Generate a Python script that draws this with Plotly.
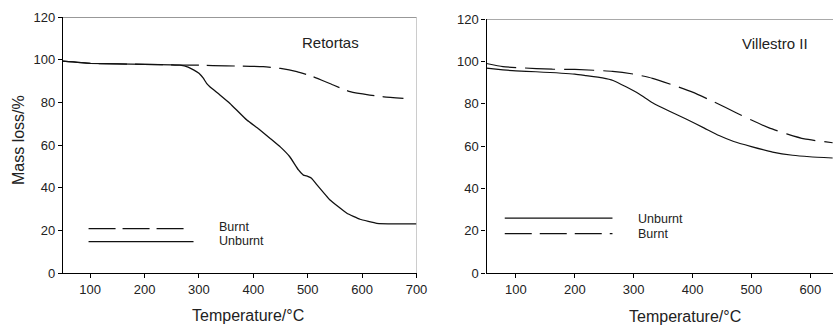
import plotly.graph_objects as go

# ---- Data: Retortas (left panel) ----
ret_burnt_T = [50, 100, 200, 265, 300, 350, 418, 450, 480, 510, 547, 578, 614, 640, 676]
ret_burnt_m = [99.3, 98.3, 97.8, 97.5, 97.4, 97.1, 96.7, 95.9, 94.4, 92.0, 88.1, 85.0, 83.4, 82.6, 81.9]

ret_unburnt_T = [50, 100, 200, 250, 265, 280, 290, 300, 308, 314, 320, 338, 357, 388, 410, 431, 450, 467, 483, 492, 500, 507, 517, 541, 572, 596, 627, 660, 700]
ret_unburnt_m = [99.3, 98.3, 97.8, 97.6, 97.4, 96.5, 95.2, 93.6, 91.3, 88.9, 87.3, 83.6, 79.5, 71.7, 67.5, 63.1, 59.0, 54.5, 48.3, 45.9, 45.3, 44.4, 41.3, 34.2, 28.0, 25.2, 23.3, 23.0, 23.0]

# ---- Data: Villestro II (right panel) ----
vil_burnt_T = [50, 78, 107, 162, 200, 264, 300, 332, 365, 400, 437, 474, 500, 530, 560, 590, 627, 638]
vil_burnt_m = [99.0, 97.5, 97.0, 96.3, 96.2, 95.3, 94.0, 92.0, 89.0, 85.5, 80.8, 75.8, 72.3, 68.6, 65.8, 63.4, 62.0, 61.6]

vil_unburnt_T = [50, 78, 100, 134, 200, 219, 247, 265, 287, 310, 332, 360, 389, 420, 445, 470, 500, 536, 570, 599, 638]
vil_unburnt_m = [96.8, 96.0, 95.5, 95.1, 94.0, 93.3, 92.2, 91.0, 88.0, 84.5, 80.5, 76.6, 72.8, 68.5, 65.0, 62.2, 59.8, 57.2, 55.7, 55.0, 54.4]

x_ticks = [100, 200, 300, 400, 500, 600, 700]
y_ticks = [0, 20, 40, 60, 80, 100, 120]

FONT = "Liberation Sans, Arial, Helvetica, sans-serif"
TXT = "#222222"
LINE = "#111111"

fig = go.Figure()
fig.add_trace(go.Scatter(x=ret_burnt_T, y=ret_burnt_m, mode="lines", xaxis="x", yaxis="y",
                         line=dict(color=LINE, width=1.2, dash="28px,8px", shape="spline", smoothing=0.5)))
fig.add_trace(go.Scatter(x=ret_unburnt_T, y=ret_unburnt_m, mode="lines", xaxis="x", yaxis="y",
                         line=dict(color=LINE, width=1.3, shape="spline", smoothing=0.3)))
fig.add_trace(go.Scatter(x=vil_unburnt_T, y=vil_unburnt_m, mode="lines", xaxis="x2", yaxis="y2",
                         line=dict(color=LINE, width=1.2, shape="spline", smoothing=0.5)))
fig.add_trace(go.Scatter(x=vil_burnt_T, y=vil_burnt_m, mode="lines", xaxis="x2", yaxis="y2",
                         line=dict(color=LINE, width=1.2, dash="30px,9px", shape="spline", smoothing=0.5)))

ax_common = dict(showline=True, linecolor="#000000", linewidth=1.3, ticks="outside", ticklen=4,
                 tickcolor="#000000", tickwidth=1, showgrid=False, zeroline=False,
                 tickfont=dict(family=FONT, size=13, color=TXT), automargin=False)

fig.update_layout(
    width=833, height=325,
    margin=dict(l=0, r=0, t=0, b=0),
    paper_bgcolor="white", plot_bgcolor="white",
    showlegend=False,
    xaxis=dict(domain=[63/833, 416.5/833], range=[50, 700], tickvals=x_ticks, anchor="y", **ax_common),
    yaxis=dict(domain=[1-273/325, 1-17/325], range=[0, 120], tickvals=y_ticks, anchor="x", **ax_common),
    xaxis2=dict(domain=[486.5/833, 1.0], range=[50, 638.6], tickvals=x_ticks, anchor="y2", **ax_common),
    yaxis2=dict(domain=[1-273.3/325, 1-19/325], range=[0, 120], tickvals=y_ticks, anchor="x2", **ax_common),
)

# frame borders (top/right) in lighter gray
fig.add_shape(type="line", xref="x", yref="y", x0=50, x1=700, y0=120, y1=120, line=dict(color="#333333", width=1))
fig.add_shape(type="line", xref="x", yref="y", x0=700, x1=700, y0=0, y1=120, line=dict(color="#999999", width=1))
fig.add_shape(type="line", xref="x2", yref="y2", x0=50, x1=638.6, y0=120, y1=120, line=dict(color="#555555", width=1))

# legend samples
fig.add_shape(type="line", xref="x", yref="y", x0=97, x1=274, y0=20.8, y1=20.8, line=dict(color=LINE, width=1.2, dash="27px,7px"))
fig.add_shape(type="line", xref="x", yref="y", x0=97, x1=290, y0=14.7, y1=14.7, line=dict(color=LINE, width=1.2))
fig.add_shape(type="line", xref="x2", yref="y2", x0=81, x1=264, y0=26.0, y1=26.0, line=dict(color=LINE, width=1.2))
fig.add_shape(type="line", xref="x2", yref="y2", x0=81, x1=264, y0=18.7, y1=18.7, line=dict(color=LINE, width=1.2, dash="27px,8px"))

def ann(x, y, text, size, xanchor="center", angle=0):
    fig.add_annotation(x=x/833, y=1-y/325, xref="paper", yref="paper", text=text, showarrow=False,
                       xanchor=xanchor, yanchor="middle", textangle=angle, borderpad=0,
                       font=dict(family=FONT, size=size, color=TXT))

ann(330, 42, "Retortas", 15)
ann(775, 43, "Villestro II", 15)
ann(218, 226.5, "Burnt", 12.5, xanchor="left")
ann(218, 240.5, "Unburnt", 12.5, xanchor="left")
ann(637, 218.5, "Unburnt", 12.5, xanchor="left")
ann(637, 233.5, "Burnt", 12.5, xanchor="left")
ann(248, 315, "Temperature/°C", 16)
ann(685, 316, "Temperature/°C", 16)
ann(18, 140, "Mass loss/%", 16, angle=-90)

fig.write_html("out.html")
